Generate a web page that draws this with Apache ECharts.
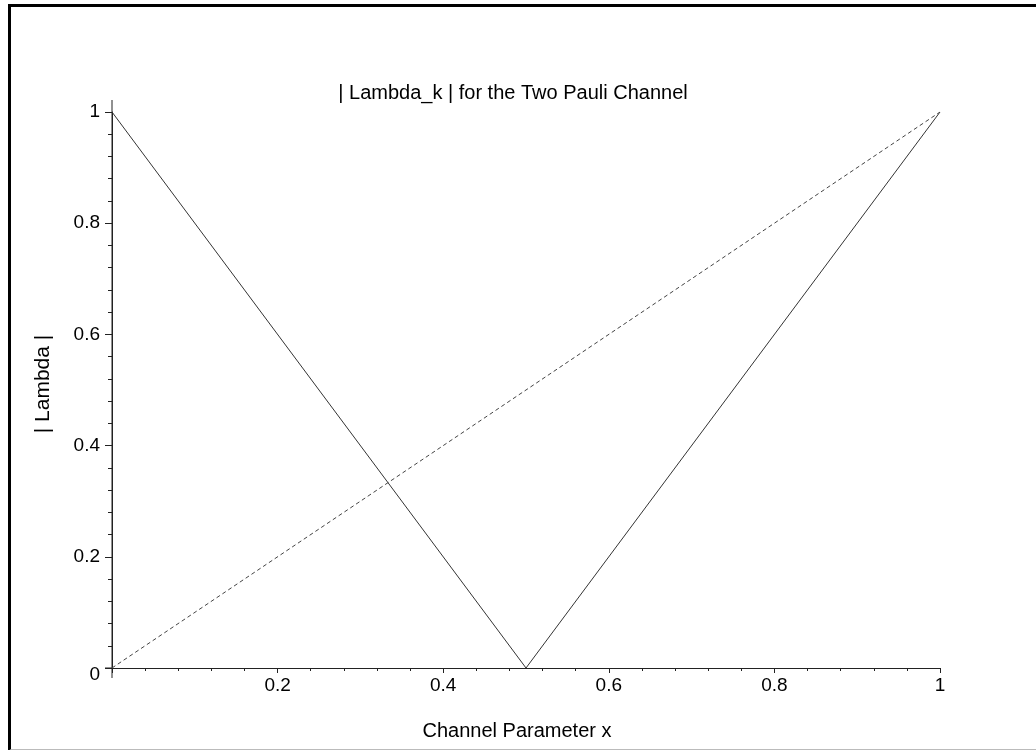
<!DOCTYPE html>
<html>
<head>
<meta charset="utf-8">
<script src="https://cdn.jsdelivr.net/npm/echarts@6/dist/echarts.min.js"></script>
<style>
  html, body { margin: 0; padding: 0; background: #fff; }
  #frame { position: absolute; left: 8px; top: 4px; width: 1025px; height: 742px;
           border-top: 3px solid #000; border-left: 3px solid #000; border-bottom: 2px solid #bbb; }
  #chart { position: absolute; left: 0; top: 0; width: 1036px; height: 750px; }
</style>
</head>
<body>
<div id="frame"></div>
<div id="chart"></div>
<script>
// Data
const titleText = '| Lambda_k | for the Two Pauli Channel';
const xName = 'Channel Parameter x';
const yName = '| Lambda |';
const xTicks = [0, 0.2, 0.4, 0.6, 0.8, 1];
const yTicks = [0, 0.2, 0.4, 0.6, 0.8, 1];
const solidX = [0, 0.5, 1];
const solidY = [1, 0, 1];
const dashedX = [0, 1];
const dashedY = [0, 1];

const FONT = 'Liberation Sans';
const chart = echarts.init(document.getElementById('chart'), null, { renderer: 'canvas' });

const fmt = v => String(Math.round(v * 10) / 10);

const option = {
  animation: false,
  backgroundColor: 'transparent',
  title: {
    text: titleText,
    left: 508, top: 78, textAlign: 'center',
    textStyle: { fontFamily: FONT, fontSize: 20, fontWeight: 'normal', color: '#000' }
  },
  grid: { left: 112, right: 96, top: 112, bottom: 82, containLabel: false },
  xAxis: {
    type: 'value', min: 0, max: 1, interval: 0.2,
    name: xName, nameLocation: 'middle', nameGap: 53,
    nameTextStyle: { fontFamily: FONT, fontSize: 20, color: '#000', padding: [0, 18, 0, 0] },
    axisLine: { show: true, lineStyle: { color: '#222', width: 1 } },
    axisTick: { show: true, length: 5, inside: false, lineStyle: { color: '#222' } },
    minorTick: { show: true, splitNumber: 5, length: 3, lineStyle: { color: '#222' } },
    splitLine: { show: false },
    axisLabel: {
      margin: 8, fontFamily: FONT, fontSize: 19, color: '#000',
      formatter: v => (Math.abs(v) < 1e-9 ? '' : fmt(v))
    }
  },
  yAxis: {
    type: 'value', min: 0, max: 1, interval: 0.2,
    name: yName, nameLocation: 'middle', nameGap: 58, nameRotate: 90,
    nameTextStyle: { fontFamily: FONT, fontSize: 21, color: '#000', padding: [0, 0, 0, 12] },
    axisLine: { show: true, lineStyle: { color: '#222', width: 1 } },
    axisTick: { show: true, length: 7, inside: false, lineStyle: { color: '#222' } },
    minorTick: { show: true, splitNumber: 5, length: 4, lineStyle: { color: '#222' } },
    splitLine: { show: false },
    axisLabel: {
      margin: 12, fontFamily: FONT, fontSize: 19, color: '#000',
      formatter: v => (Math.abs(v) < 1e-9 ? '{z|0}' : fmt(v)),
      rich: { z: { fontFamily: FONT, fontSize: 19, color: '#000', padding: [14, 0, 0, 0] } }
    }
  },
  series: [
    {
      type: 'line', name: 'solid', symbol: 'none',
      data: solidX.map((x, i) => [x, solidY[i]]),
      lineStyle: { color: '#333', width: 1 }
    },
    {
      type: 'line', name: 'dashed', symbol: 'none',
      data: dashedX.map((x, i) => [x, dashedY[i]]),
      lineStyle: { color: '#444', width: 1, type: [4, 3] }
    }
  ]
};
chart.setOption(option);

// Axis line extensions (axes overshoot the data range slightly, as in the reference)
const p0 = chart.convertToPixel({ gridIndex: 0 }, [0, 0]);
const p1 = chart.convertToPixel({ gridIndex: 0 }, [1, 1]);
chart.setOption({
  graphic: [
    { type: 'line', shape: { x1: p0[0], y1: p1[1] - 12, x2: p0[0], y2: p0[1] + 10 },
      style: { stroke: '#222', lineWidth: 1 }, silent: true },
    { type: 'line', shape: { x1: p0[0] - 7, y1: p0[1], x2: p0[0], y2: p0[1] },
      style: { stroke: '#222', lineWidth: 1 }, silent: true }
  ]
});
</script>
</body>
</html>
